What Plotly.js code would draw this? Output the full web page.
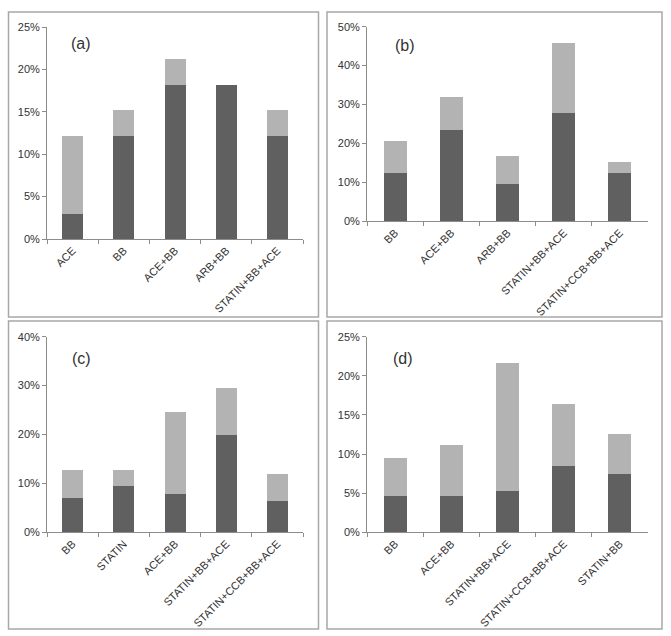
<!DOCTYPE html>
<html>
<head>
<meta charset="utf-8">
<script src="https://cdn.plot.ly/plotly-3.0.1.min.js"></script>
<style>
  body { margin: 0; background: #fff; }
  #chart { width: 671px; height: 636px; }
</style>
</head>
<body>
<div id="chart"></div>
<script>
// values, in percent
// dark part = bottom segment, light part = the rest on top

// panel (a)
var catsA = ["ACE", "BB", "ACE+BB", "ARB+BB", "STATIN+BB+ACE"];
var darkA = [3.0, 12.1, 18.2, 18.2, 12.1];
var lightA = [9.1, 3.1, 3.0, 0, 3.1];

// panel (b)
var catsB = ["BB", "ACE+BB", "ARB+BB", "STATIN+BB+ACE", "STATIN+CCB+BB+ACE"];
var darkB = [12.3, 23.5, 9.5, 27.8, 12.3];
var lightB = [8.4, 8.5, 7.3, 18.0, 2.9];

// panel (c)
var catsC = ["BB", "STATIN", "ACE+BB", "STATIN+BB+ACE", "STATIN+CCB+BB+ACE"];
var darkC = [7.1, 9.5, 7.9, 19.9, 6.4];
var lightC = [5.6, 3.2, 16.8, 9.7, 5.6];

// panel (d)
var catsD = ["BB", "ACE+BB", "STATIN+BB+ACE", "STATIN+CCB+BB+ACE", "STATIN+BB"];
var darkD = [4.7, 4.7, 5.3, 8.5, 7.4];
var lightD = [4.75, 6.4, 16.3, 7.85, 5.2];

var W = 671, H = 636;
var DARK = "#606060", LIGHT = "#b3b3b3";
var AXIS = "#8c8c8c";
var FONT = "Liberation Sans, Arial, sans-serif";

// pixel -> paper helpers
function px(x) { return x / W; }
function py(y) { return 1 - y / H; }

function bars(cats, dark, light, n) {
    var xa = n == 1 ? "x" : "x" + n;
    var ya = n == 1 ? "y" : "y" + n;
    return [
        { x: cats, y: dark, type: "bar", marker: { color: DARK }, xaxis: xa, yaxis: ya, hoverinfo: "none" },
        { x: cats, y: light, type: "bar", marker: { color: LIGHT }, xaxis: xa, yaxis: ya, hoverinfo: "none" }
    ];
}

function xAxis(x0, x1, anchor) {
    return {
        domain: [px(x0), px(x1)], anchor: anchor,
        showline: true, linecolor: AXIS, linewidth: 1,
        ticks: "outside", tickson: "boundaries", ticklen: 4, tickcolor: AXIS,
        tickangle: -45, tickfont: { family: FONT, size: 11, color: "#333" },
        showgrid: false, zeroline: false, fixedrange: true
    };
}

function yAxis(y0, y1, anchor, max, step) {
    return {
        domain: [py(y0), py(y1)], anchor: anchor,
        range: [0, max], dtick: step, ticksuffix: "%",
        showline: true, linecolor: AXIS, linewidth: 1,
        ticks: "outside", ticklen: 4, tickcolor: AXIS,
        tickfont: { family: FONT, size: 11, color: "#333" },
        showgrid: false, zeroline: false, fixedrange: true
    };
}

function panelLabel(text, x, y) {
    return {
        text: text, xref: "paper", yref: "paper", x: px(x), y: py(y),
        xanchor: "center", yanchor: "middle",
        showarrow: false, font: { family: FONT, size: 16, color: "#333" }
    };
}

function border(x0, y0, x1, y1) {
    return {
        type: "rect", xref: "paper", yref: "paper",
        x0: px(x0), x1: px(x1), y0: py(y1), y1: py(y0),
        line: { color: "#a8a8a8", width: 1.5 }, fillcolor: "rgba(0,0,0,0)"
    };
}

var data = []
    .concat(bars(catsA, darkA, lightA, 1))
    .concat(bars(catsB, darkB, lightB, 2))
    .concat(bars(catsC, darkC, lightC, 3))
    .concat(bars(catsD, darkD, lightD, 4));

var layout = {
    width: W, height: H,
    margin: { l: 0, r: 0, t: 0, b: 0 },
    paper_bgcolor: "#fff", plot_bgcolor: "#fff",
    showlegend: false,
    barmode: "stack", bargap: 0.59,
    xaxis: xAxis(47, 303, "y"),
    yaxis: yAxis(239, 27, "x", 25, 5),
    xaxis2: xAxis(367, 648, "y2"),
    yaxis2: yAxis(221.3, 26.7, "x2", 50, 10),
    xaxis3: xAxis(47, 303, "y3"),
    yaxis3: yAxis(532.3, 336.7, "x3", 40, 10),
    xaxis4: xAxis(367, 648, "y4"),
    yaxis4: yAxis(532.3, 336.7, "x4", 25, 5),
    shapes: [
        border(8.5, 12, 318.5, 317),
        border(327, 12, 662, 317),
        border(8.5, 321, 318.5, 629),
        border(327, 321, 662, 629)
    ],
    annotations: [
        panelLabel("(a)", 81, 44),
        panelLabel("(b)", 405, 46),
        panelLabel("(c)", 81, 358),
        panelLabel("(d)", 403, 358)
    ]
};

Plotly.newPlot("chart", data, layout, { displayModeBar: false, staticPlot: true });
</script>
</body>
</html>
